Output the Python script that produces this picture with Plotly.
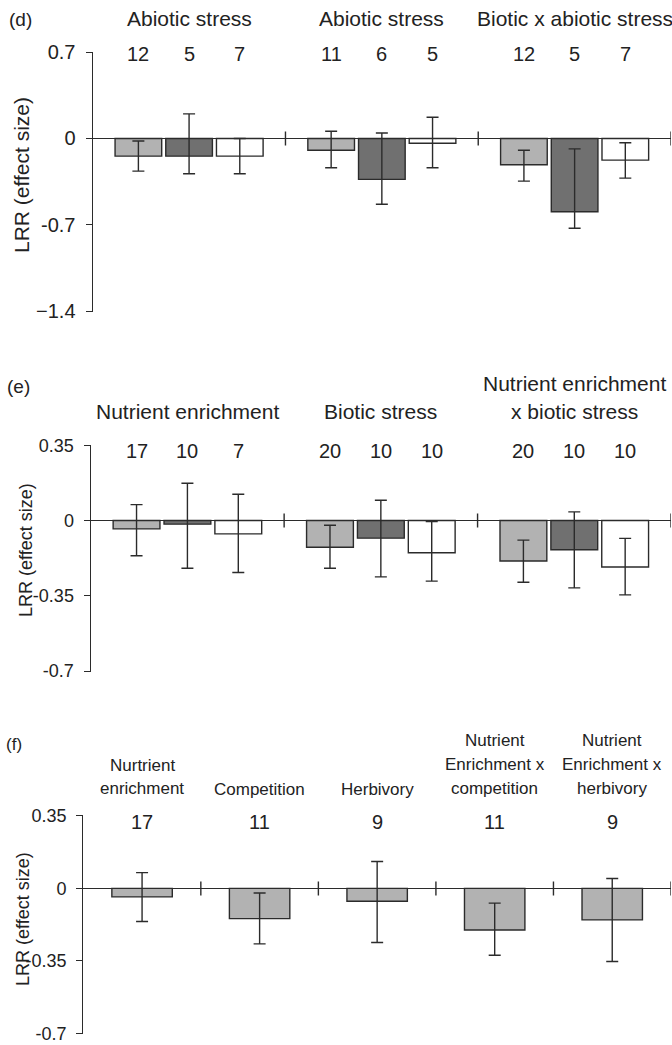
import plotly.graph_objects as go

W, H = 672, 1045

# ---------------- data ----------------
# Panel (d)
d_groups = ["Abiotic stress", "Abiotic stress", "Biotic x abiotic stress"]
d_n_light = [12, 11, 12]
d_n_dark = [5, 6, 5]
d_n_white = [7, 5, 7]
d_mean_light = [-0.143, -0.095, -0.213]
d_lo_light = [-0.264, -0.237, -0.345]
d_hi_light = [-0.020, 0.059, -0.095]
d_mean_dark = [-0.143, -0.331, -0.593]
d_lo_dark = [-0.286, -0.533, -0.727]
d_hi_dark = [0.199, 0.045, -0.084]
d_mean_white = [-0.143, -0.038, -0.175]
d_lo_white = [-0.286, -0.237, -0.321]
d_hi_white = [0.000, 0.172, -0.035]
d_ticks = [0.7, 0, -0.7, -1.4]
d_ticktext = ["0.7", "0", "-0.7", "\u22121.4"]

# Panel (e)
e_groups = [["Nutrient enrichment"], ["Biotic stress"], ["Nutrient enrichment", "x biotic stress"]]
e_n_light = [17, 20, 20]
e_n_dark = [10, 10, 10]
e_n_white = [7, 10, 10]
e_mean_light = [-0.039, -0.124, -0.188]
e_lo_light = [-0.164, -0.222, -0.287]
e_hi_light = [0.074, -0.022, -0.091]
e_mean_dark = [-0.017, -0.082, -0.136]
e_lo_dark = [-0.222, -0.262, -0.313]
e_hi_dark = [0.173, 0.094, 0.040]
e_mean_white = [-0.062, -0.150, -0.216]
e_lo_white = [-0.242, -0.282, -0.346]
e_hi_white = [0.122, -0.005, -0.083]
e_ticks = [0.35, 0, -0.35, -0.7]
e_ticktext = ["0.35", "0", "-0.35", "-0.7"]

# Panel (f)
f_groups = [["Nurtrient", "enrichment"], ["Competition"], ["Herbivory"],
            ["Nutrient", "Enrichment x", "competition"],
            ["Nutrient", "Enrichment x", "herbivory"]]
f_n = [17, 11, 9, 11, 9]
f_mean = [-0.041, -0.146, -0.062, -0.201, -0.152]
f_lo = [-0.160, -0.268, -0.261, -0.323, -0.353]
f_hi = [0.076, -0.022, 0.130, -0.071, 0.048]
f_ticks = [0.35, 0, -0.35, -0.7]
f_ticktext = ["0.35", "0", "-0.35", "-0.7"]

# ---------------- styles ----------------
LIGHT = "#b2b2b2"
DARK = "#707070"
WHITE = "#ffffff"
INK = "#2b2b2b"
FONT = "Liberation Sans, Arial, sans-serif"
SLOT = 0.263
BARW = 0.242
BARW_F = 0.514
EPS = 0.003


def px(x):
    return x / W


def py(y):
    return 1 - y / H


fig = go.Figure()


def add_series(axis_id, groups_n, offset, width, mean, lo, hi, color):
    xs = [g + offset for g in range(groups_n)]
    plus = [h - m for h, m in zip(hi, mean)]
    minus = [m - l for m, l in zip(mean, lo)]
    fig.add_trace(go.Bar(
        x=xs, y=mean, width=width,
        marker=dict(color=color, line=dict(color=INK, width=1.4)),
        error_y=dict(type="data", symmetric=False, array=plus, arrayminus=minus,
                     color=INK, thickness=1.4, width=6),
        xaxis="x" + axis_id, yaxis="y" + axis_id, showlegend=False,
        hoverinfo="skip",
    ))


# Panel d traces
for k, (m, lo, hi, c) in enumerate([
        (d_mean_light, d_lo_light, d_hi_light, LIGHT),
        (d_mean_dark, d_lo_dark, d_hi_dark, DARK),
        (d_mean_white, d_lo_white, d_hi_white, WHITE)]):
    add_series("", len(d_groups), (k - 1) * SLOT, BARW, m, lo, hi, c)

# Panel e traces
for k, (m, lo, hi, c) in enumerate([
        (e_mean_light, e_lo_light, e_hi_light, LIGHT),
        (e_mean_dark, e_lo_dark, e_hi_dark, DARK),
        (e_mean_white, e_lo_white, e_hi_white, WHITE)]):
    add_series("2", len(e_groups), (k - 1) * SLOT, BARW, m, lo, hi, c)

# Panel f trace
add_series("3", len(f_groups), 0, BARW_F, f_mean, f_lo, f_hi, LIGHT)


def yaxis_cfg(rng, ticks, ticktext, dom, anchor, size):
    return dict(range=[rng[0] - EPS, rng[1] + EPS], tickvals=ticks,
                ticktext=ticktext, domain=dom,
                anchor=anchor, showline=True, linecolor=INK, linewidth=1.4,
                ticks="outside", ticklen=6, tickwidth=1.4, tickcolor=INK,
                showgrid=False, zeroline=True, zerolinecolor=INK,
                zerolinewidth=1.4, ticklabelstandoff=6, automargin=False,
                tickfont=dict(family=FONT, size=size, color="#222"))


def xaxis_cfg(n, dom, anchor):
    return dict(range=[-0.5, n - 0.5], domain=dom, anchor=anchor,
                visible=False, showgrid=False, zeroline=False, fixedrange=True)


fig.update_layout(
    width=W, height=H,
    margin=dict(l=0, r=0, t=0, b=0, autoexpand=False),
    paper_bgcolor="white", plot_bgcolor="white",
    barmode="overlay",
    xaxis=xaxis_cfg(len(d_groups), [px(92.7), px(671)], "y"),
    yaxis=yaxis_cfg([-1.4, 0.7], d_ticks, d_ticktext, [py(311.7), py(51.7)], "x", 20),
    xaxis2=xaxis_cfg(len(e_groups), [px(90.7), px(671)], "y2"),
    yaxis2=yaxis_cfg([-0.7, 0.35], e_ticks, e_ticktext, [py(671.7), py(444.6)], "x2", 18),
    xaxis3=xaxis_cfg(len(f_groups), [px(83.3), px(671)], "y3"),
    yaxis3=yaxis_cfg([-0.7, 0.35], f_ticks, f_ticktext, [py(1034.0), py(815.3)], "x3", 18),
)

# group separators on the zero line
for ax, n in [("", len(d_groups)), ("2", len(e_groups)), ("3", len(f_groups))]:
    for g in range(n):
        fig.add_shape(type="line", xref="x" + ax, yref="y" + ax,
                      x0=g + 0.5, x1=g + 0.5, ysizemode="pixel", yanchor=0,
                      y0=-7, y1=7, line=dict(color=INK, width=1.4))

ann = []


def txt(text, x, y, size, xref="paper", xanchor="center"):
    ann.append(dict(text=text, x=x, y=py(y), xref=xref, yref="paper",
                    xanchor=xanchor, yanchor="middle", showarrow=False,
                    font=dict(family=FONT, size=size, color="#222")))


# panel labels
txt("(d)", px(7), 19, 19, xanchor="left")
txt("(e)", px(5), 386, 19, xanchor="left")
txt("(f)", px(4), 744, 17, xanchor="left")

# y-axis titles
for xc, yc, size in [(22, 175, 21), (26, 550, 18), (23, 919, 18)]:
    ann.append(dict(text="LRR (effect size)", x=px(xc), y=py(yc), xref="paper",
                    yref="paper", textangle=-90, showarrow=False,
                    xanchor="center", yanchor="middle",
                    font=dict(family=FONT, size=size, color="#222")))

# panel d headers and counts
for g, name in enumerate(d_groups):
    txt(name, g, 18, 21, xref="x")
for k, counts in enumerate([d_n_light, d_n_dark, d_n_white]):
    for g, nval in enumerate(counts):
        txt(str(nval), g + (k - 1) * SLOT, 54, 20, xref="x")

# panel e headers and counts
for g, lines in enumerate(e_groups):
    ys = [411] if len(lines) == 1 else [383, 411]
    for line, yy in zip(lines, ys):
        txt(line, g, yy, 21, xref="x2")
for k, counts in enumerate([e_n_light, e_n_dark, e_n_white]):
    for g, nval in enumerate(counts):
        txt(str(nval), g + (k - 1) * SLOT, 451, 20, xref="x2")

# panel f headers and counts
for g, lines in enumerate(f_groups):
    ys = {1: [789], 2: [765, 788], 3: [740, 764, 788]}[len(lines)]
    for line, yy in zip(lines, ys):
        txt(line, g, yy, 17, xref="x3")
for g, nval in enumerate(f_n):
    txt(str(nval), g, 822, 20, xref="x3")

fig.update_layout(annotations=ann)
fig.write_html(
    "out.html",
    config={"displayModeBar": False},
    post_script="document.body.style.margin='0';document.body.style.overflow='hidden';",
)
